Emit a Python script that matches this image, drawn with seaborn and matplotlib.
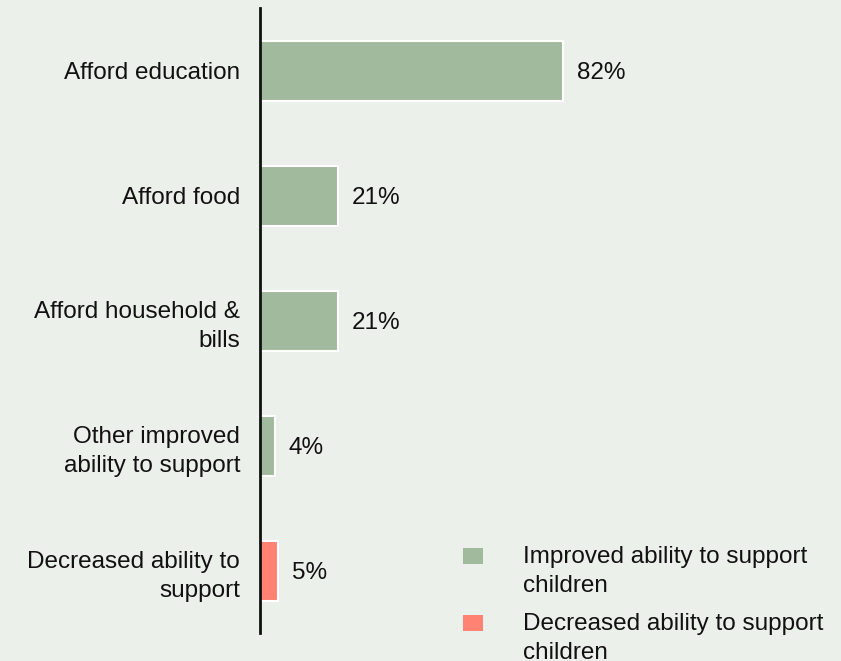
import matplotlib
matplotlib.use("Agg")
import matplotlib.pyplot as plt
import seaborn as sns
import pandas as pd
from matplotlib.patches import Rectangle

categories = [
    "Afford education",
    "Afford food",
    "Afford household &\nbills",
    "Other improved\nability to support",
    "Decreased ability to\nsupport",
]
values = [82, 21, 21, 4, 5]
groups = [
    "Improved ability to support\nchildren",
    "Improved ability to support\nchildren",
    "Improved ability to support\nchildren",
    "Improved ability to support\nchildren",
    "Decreased ability to support\nchildren",
]
group_order = [
    "Improved ability to support\nchildren",
    "Decreased ability to support\nchildren",
]
colors = ["#A1BA9D", "#FF8273"]
bg = "#ECF0EA"
ink = "#111111"
fs = 17.5

df = pd.DataFrame({"category": categories, "value": values, "group": groups})

sns.set_theme(style="white")
plt.rcParams["font.family"] = ["Liberation Sans", "DejaVu Sans"]

W, H = 841, 661
fig = plt.figure(figsize=(W / 100, H / 100), dpi=100, facecolor=bg)
ax = fig.add_axes([260 / W, 28 / H, 581 / W, 625 / H], facecolor=bg)

sns.barplot(
    data=df, x="value", y="category", hue="group", hue_order=group_order,
    palette=colors, saturation=1, dodge=False, width=0.48, ax=ax,
    edgecolor="white", linewidth=1.5, legend=False,
)

for cont in ax.containers:
    texts = ax.bar_label(cont, labels=[f"{v:.0f}%" if v == v else "" for v in cont.datavalues],
                         padding=10, fontsize=fs, color=ink)
    for t in texts:
        t.set_va("center_baseline")

ax.set_xlim(0, 581 / 3.695)
ax.set_ylim(4.5, -0.5)
ax.set_xlabel("")
ax.set_ylabel("")
ax.set_xticks([])
ax.tick_params(axis="y", length=0, pad=14.4, labelsize=fs, labelcolor=ink)
for lab in ax.get_yticklabels():
    lab.set_linespacing(1.42)
for side in ["top", "right", "bottom"]:
    ax.spines[side].set_visible(False)
ax.spines["left"].set_color(ink)
ax.spines["left"].set_linewidth(2)

# Legend: colour square aligned with the first line of each two-line entry
legend_rows = [548, 615]
for label, color, top in zip(group_order, colors, legend_rows):
    fig.patches.append(Rectangle((463 / W, 1 - (top + 16) / H), 20 / W, 16 / H,
                                 transform=fig.transFigure, facecolor=color,
                                 edgecolor="none"))
    fig.text(523 / W, 1 - (top - 2) / H, label, ha="left", va="top",
             fontsize=fs, color=ink, linespacing=1.42)

fig.savefig("out.png", dpi=100, facecolor=bg)
